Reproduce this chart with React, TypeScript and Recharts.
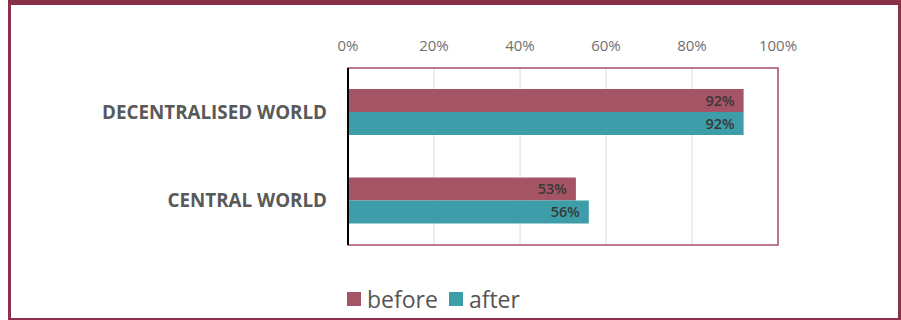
import {
  BarChart,
  Bar,
  XAxis,
  YAxis,
  CartesianGrid,
  LabelList,
  Legend,
  ReferenceArea
} from "recharts";

const categories = ["DECENTRALISED WORLD", "CENTRAL WORLD"];
const beforeValues = [92, 53];
const afterValues = [92, 56];
const percentTicks = [0, 20, 40, 60, 80, 100];

const FRAME = "#8b3049";
const BEFORE = "#a45464";
const AFTER = "#3d9eaa";
const FONT = "'Open Sans', sans-serif";

const rows = categories.map((name, i) => ({
  name,
  before: beforeValues[i],
  after: afterValues[i]
}));

const series = [
  { key: "before", color: BEFORE },
  { key: "after", color: AFTER }
];

// Legend drawn as plain squares + text under the plot
function SeriesLegend() {
  return (
    <div style={{ display: "flex", alignItems: "center", fontFamily: FONT }}>
      {series.map((s) => (
        <div key={s.key} style={{ display: "flex", alignItems: "center", marginRight: 11 }}>
          <span style={{ width: 14, height: 14, background: s.color, display: "inline-block" }} />
          <span style={{ marginLeft: 6, fontSize: 23, lineHeight: "24px", color: "#555" }}>{s.key}</span>
        </div>
      ))}
    </div>
  );
}

export default function App() {
  return (
    <div style={{ position: "absolute", left: 0, top: 0, width: 901, height: 320, background: "#fff", fontFamily: FONT }}>
      <div
        style={{
          position: "absolute",
          left: 8,
          top: 0,
          width: 893,
          height: 320,
          boxSizing: "border-box",
          borderTop: `5px solid ${FRAME}`,
          borderLeft: `3px solid ${FRAME}`,
          borderRight: `3px solid ${FRAME}`,
          borderBottom: `2px solid ${FRAME}`
        }}
      />
      <div style={{ position: "absolute", left: 0, top: 0 }}>
        <BarChart
          width={901}
          height={320}
          data={rows}
          layout="vertical"
          barGap={0}
          barSize={23}
          margin={{ top: 30, right: 123, bottom: 75, left: 0 }}
        >
          <CartesianGrid horizontal={false} stroke="#dcdcdc" strokeWidth={1} />
          <ReferenceArea x1={0} x2={100} fill="none" stroke="#a8506a" strokeWidth={1.5} />
          <XAxis
            type="number"
            orientation="top"
            domain={[0, 100]}
            ticks={percentTicks}
            tickFormatter={(v: number) => `${v}%`}
            axisLine={false}
            tickLine={false}
            tickSize={0}
            tickMargin={17}
            height={38}
            tick={{ fill: "#707070", fontSize: 15, fontFamily: FONT }}
          />
          <YAxis
            type="category"
            dataKey="name"
            width={348}
            axisLine={{ stroke: "#000", strokeWidth: 2 }}
            tickLine={false}
            tickSize={0}
            tickMargin={21}
            tick={{ fill: "#595959", fontSize: 18.8, fontWeight: 700, fontFamily: FONT }}
          />
          {series.map((s) => (
            <Bar key={s.key} dataKey={s.key} fill={s.color} isAnimationActive={false}>
              <LabelList
                dataKey={s.key}
                position="insideRight"
                offset={9}
                formatter={(v: number) => `${v}%`}
                style={{ fill: "#383838", fontSize: 14.5, fontWeight: 600, fontFamily: FONT }}
              />
            </Bar>
          ))}
          <Legend
            layout="horizontal"
            verticalAlign="middle"
            align="center"
            content={<SeriesLegend />}
            wrapperStyle={{ top: 287, left: 347, width: "auto", height: 24 }}
          />
        </BarChart>
      </div>
    </div>
  );
}
